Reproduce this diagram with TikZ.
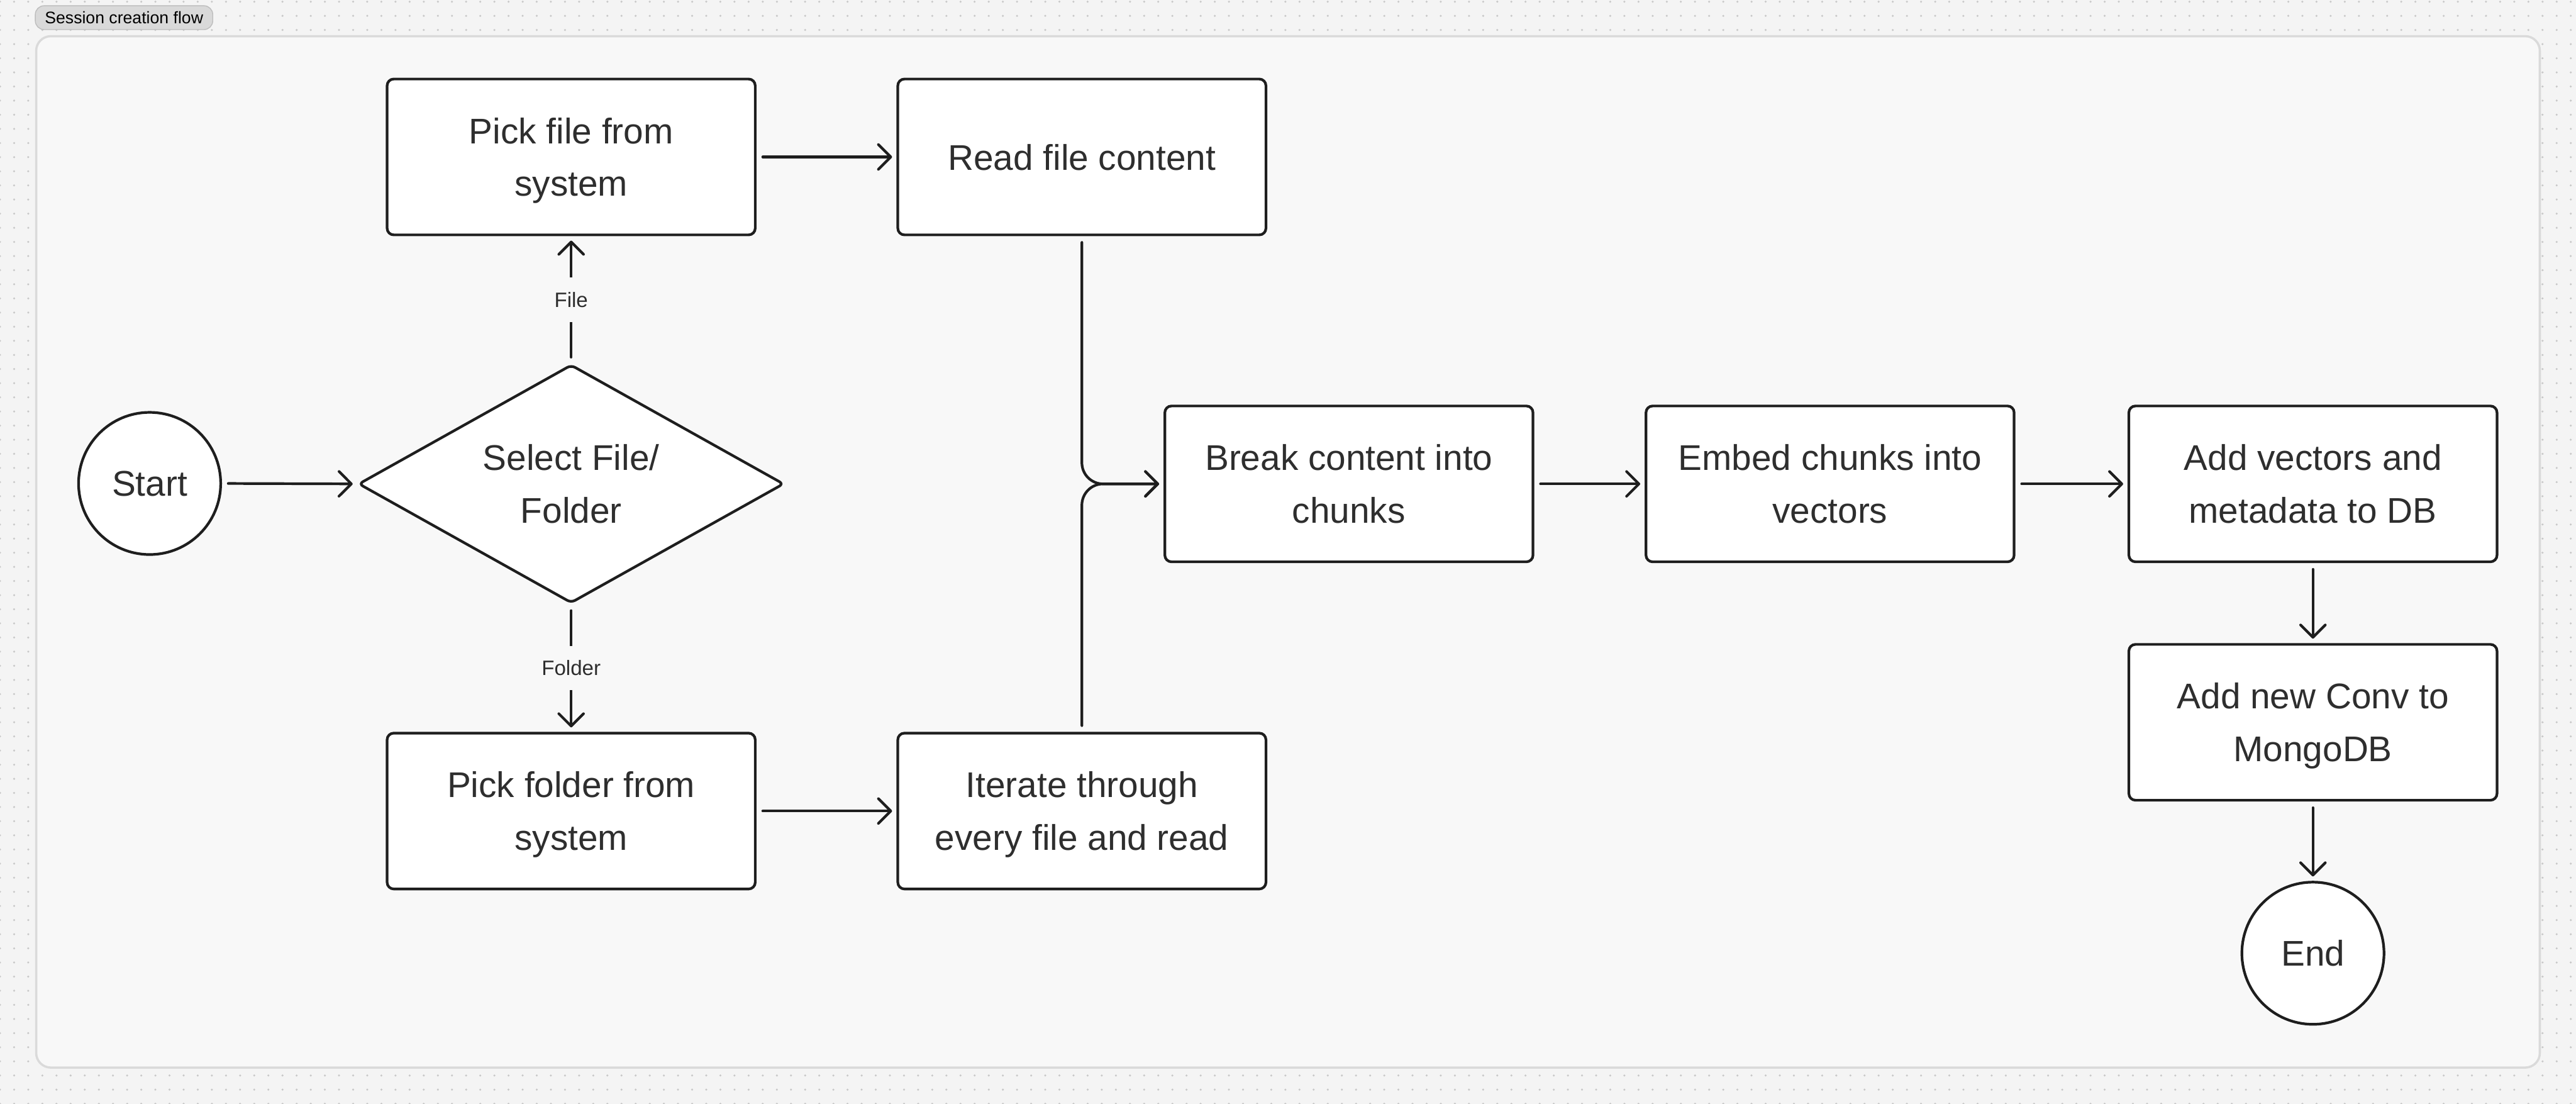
\documentclass[tikz,border=0pt]{standalone}
\usepackage{fontspec}
\setmainfont{Liberation Sans}
\usepackage{tikz}
\usetikzlibrary{shapes,arrows,positioning,calc,arrows.meta,patterns.meta}

\definecolor{pagebg}{HTML}{F4F4F4}
\definecolor{dotgray}{HTML}{C8C8C8}
\definecolor{framebg}{HTML}{F8F8F8}
\definecolor{frameline}{HTML}{DADADA}
\definecolor{tagbg}{HTML}{D9D9D9}
\definecolor{tagline}{HTML}{BDBDBD}
\definecolor{ink}{HTML}{1E1E1E}
\definecolor{txt}{HTML}{2E2E2E}

\begin{document}
\begin{tikzpicture}[
        box/.style={draw=ink, fill=white, line width=0.06cm, rounded corners=0.15cm,
            minimum width=8.34cm, minimum height=3.53cm, align=center, text=txt,
            text depth=0pt, font=\fontsize{23}{34}\selectfont},
        term/.style={circle, draw=ink, fill=white, line width=0.06cm, minimum size=3.22cm,
            inner sep=0pt, text=txt, font=\fontsize{23}{34}\selectfont},
        decide/.style={diamond, draw=ink, fill=white, line width=0.06cm, rounded corners=0.1cm,
            minimum width=9.64cm, minimum height=5.40cm, inner sep=0pt, aspect=1.78,
            align=center, text=txt, font=\fontsize{23}{34}\selectfont},
        conn/.style={draw=ink, line width=0.06cm, line cap=round,
            -{Straight Barb[length=0.28cm,width=0.56cm,round]},
            shorten <=0.14cm, shorten >=0.1cm},
        elabel/.style={fill=framebg, text=txt, font=\fontsize{13.4}{16}\selectfont,
            minimum height=1.0cm, inner xsep=2pt},
        tag/.style={draw=tagline, fill=tagbg, line width=0.02cm, rounded corners=0.2cm,
            minimum width=4.02cm, minimum height=0.54cm, inner sep=0pt,
            font=\fontsize{10.8}{13}\selectfont}
    ]
    \useasboundingbox (0,0) rectangle (58.36,-25);

    % dotted canvas
    \fill[pagebg] (0,0) rectangle (58.36,-25);
    \fill[pattern={Dots[distance=0.32cm,radius=0.025cm]}, pattern color=dotgray] (0,0) rectangle (58.36,-25);

    % section frame
    \draw[frameline, fill=framebg, line width=0.05cm, rounded corners=0.33cm] (0.82,-0.82) rectangle (57.54,-24.18);
    \node[tag] (title) at (2.81,-0.40) {Session creation flow};

    \node[term] (start) at (3.39,-10.95) {Start};
    \node[decide] (select) at (12.94,-10.96) {Select File/\\Folder};
    \node[box] (pickfile) at (12.94,-3.555) {Pick file from\\system};
    \node[box] (readfile) at (24.51,-3.555) {Read file content};
    \node[box] (pickfolder) at (12.94,-18.37) {Pick folder from\\system};
    \node[box] (iterate) at (24.51,-18.37) {Iterate through\\every file and read};
    \node[box] (break) at (30.56,-10.96) {Break content into\\chunks};
    \node[box] (embed) at (41.46,-10.96) {Embed chunks into\\vectors};
    \node[box] (addvec) at (52.40,-10.96) {Add vectors and\\metadata to DB};
    \node[box] (addconv) at (52.40,-16.36) {Add new Conv to\\MongoDB};
    \node[term] (finish) at (52.40,-21.59) {End};

    \draw[conn] (start.east) -- (select.west);
    \draw[conn] (select.north) -- node[elabel] {File} (pickfile.south);
    \draw[conn] (select.south) -- node[elabel] {Folder} (pickfolder.north);
    \draw[conn] (pickfile) -- (readfile);
    \draw[conn] (pickfolder) -- (iterate);
    \draw[conn, rounded corners=0.48cm] (readfile.south) |- (break.west);
    \draw[conn, rounded corners=0.48cm] (iterate.north) |- (break.west);
    \draw[conn] (break) -- (embed);
    \draw[conn] (embed) -- (addvec);
    \draw[conn] (addvec) -- (addconv);
    \draw[conn] (addconv) -- (finish);
\end{tikzpicture}
\end{document}
